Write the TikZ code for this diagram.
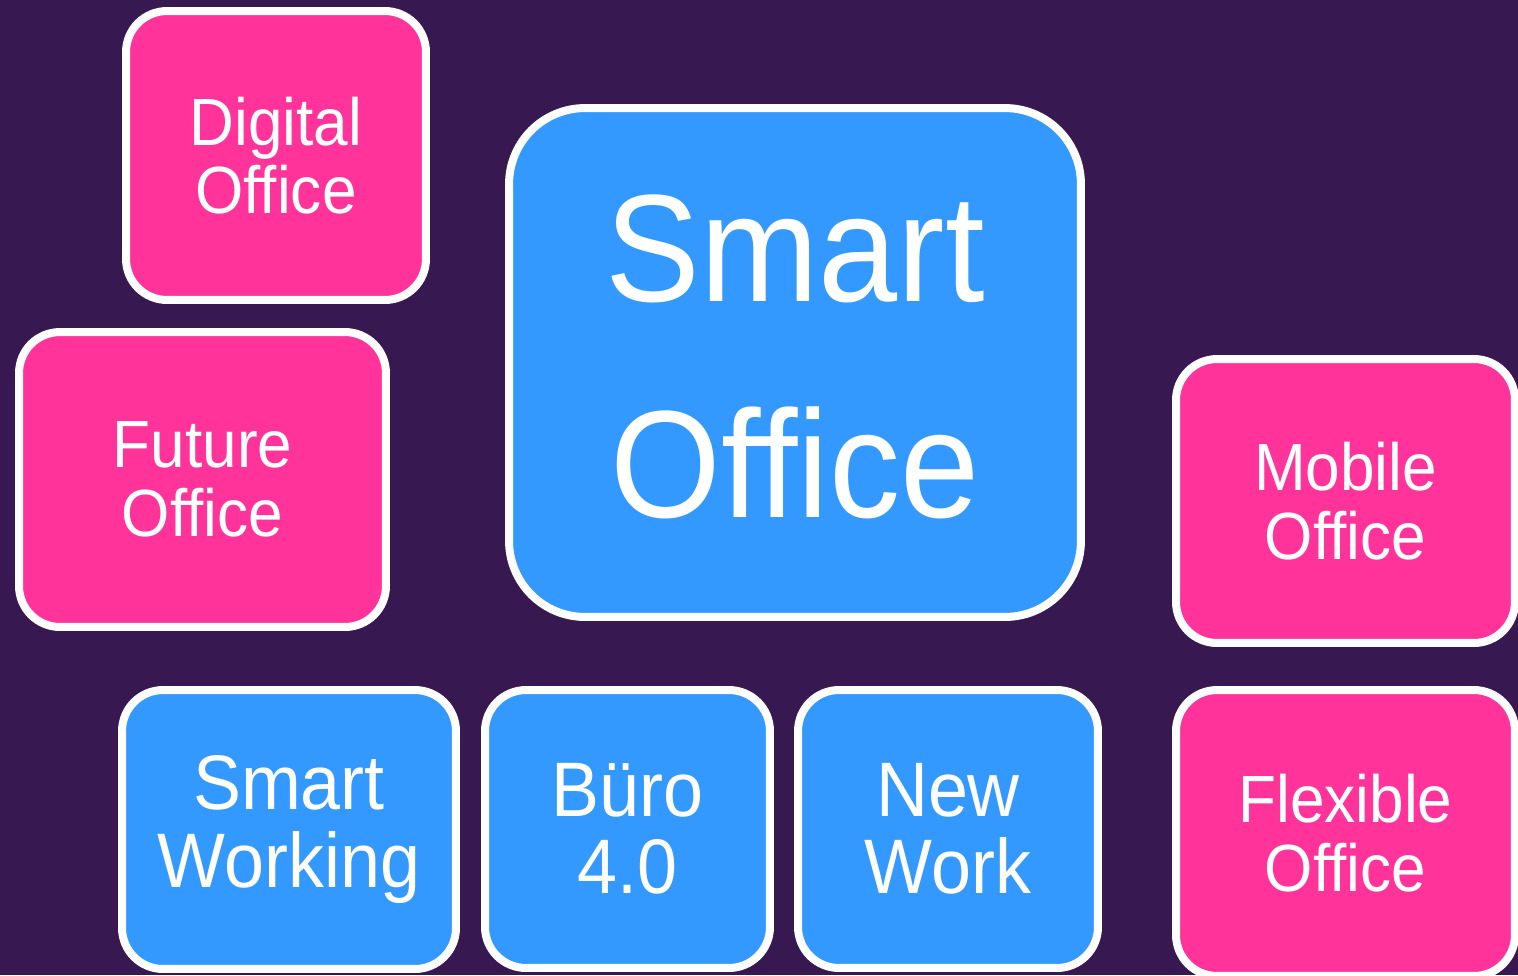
\documentclass[tikz,border=0pt]{standalone}
\usepackage{fontspec}
\newfontfamily\tilefont[FakeStretch=0.93]{Liberation Sans}
\definecolor{bgpurple}{HTML}{381850}
\definecolor{tilepink}{HTML}{FF3399}
\definecolor{tileblue}{HTML}{3399FF}
\begin{document}
\begin{tikzpicture}[x=0.02cm, y=-0.02cm,
  tile/.style={draw=white, line width=0.16cm, rounded corners=0.82cm, align=center, text=white, inner sep=0pt},
  pinktile/.style={tile, fill=tilepink, font=\tilefont\fontsize{38}{39}\selectfont},
  bluetile/.style={tile, fill=tileblue, font=\tilefont\fontsize{44}{44}\selectfont}]

\useasboundingbox (0,0) rectangle (1518,975);
\fill[bgpurple] (0,0) rectangle (1518,975);
\clip (0,0) rectangle (1518,975);

\node[pinktile, minimum width=6cm, minimum height=5.78cm] (digital) at (276,155.5) {Digital\\Office};
\node[pinktile, minimum width=7.34cm, minimum height=5.9cm] (future) at (202.5,479.5) {Future\\Office};
\node[pinktile, minimum width=6.78cm, minimum height=5.68cm] (mobile) at (1345.5,501) {Mobile\\Office};
\node[pinktile, minimum width=6.78cm, minimum height=5.72cm] (flexible) at (1345.5,833) {Flexible\\Office};

\node[bluetile, rounded corners=1.52cm, minimum width=11.44cm, minimum height=10.18cm, text depth=7pt,
  font=\tilefont\fontsize{87}{123}\selectfont] (smart) at (795,362.5) {Smart\\Office};

\node[bluetile, minimum width=6.68cm, minimum height=5.58cm] (working) at (289,829.5) {Smart\\Working};
\node[bluetile, minimum width=5.7cm, minimum height=5.56cm] (buero) at (627.5,829) {Büro\\4.0};
\node[bluetile, minimum width=6cm, minimum height=5.56cm] (newwork) at (948,829) {New\\Work};

\end{tikzpicture}
\end{document}
